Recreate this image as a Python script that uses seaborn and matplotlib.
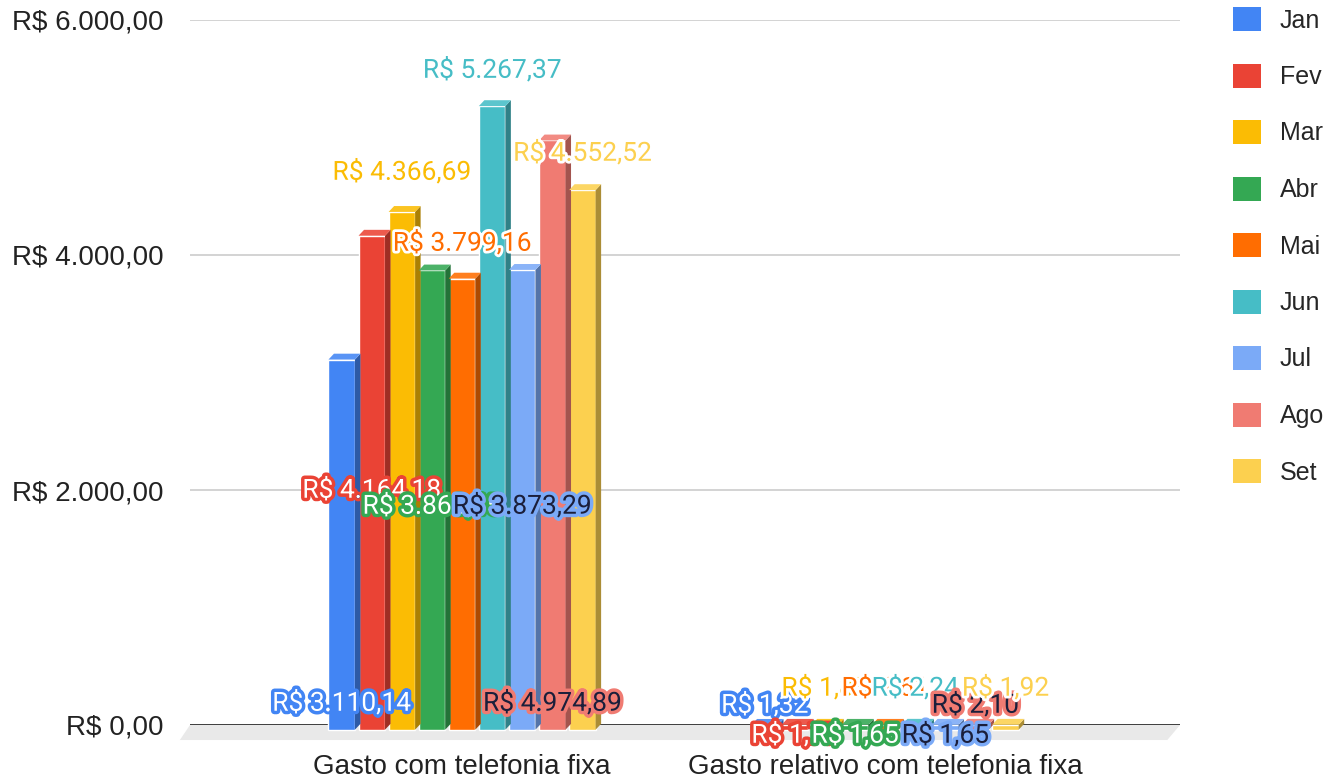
import matplotlib.pyplot as plt
import matplotlib.patheffects as pe
import matplotlib.colors as mcolors
from matplotlib.patches import Patch, Polygon
import pandas as pd
import seaborn as sns


MONTHS = ["Jan", "Fev", "Mar", "Abr", "Mai", "Jun", "Jul", "Ago", "Set"]
CATEGORIES = ["Gasto com telefonia fixa", "Gasto relativo com telefonia fixa"]
GASTO = [3110.14, 4164.18, 4366.69, 3868.45, 3799.16, 5267.37, 3873.29, 4974.89, 4552.52]
GASTO_RELATIVO = [1.32, 1.77, 1.85, 1.65, 1.61, 2.24, 1.65, 2.10, 1.92]
COLORS = ["#4285F4", "#EA4335", "#FBBC04", "#34A853", "#FF6D01",
          "#46BDC6", "#7BAAF7", "#F07B72", "#FCD04F"]
Y_TICKS = [0, 2000, 4000, 6000]
Y_TICK_LABELS = ["R$ 0,00", "R$ 2.000,00", "R$ 4.000,00", "R$ 6.000,00"]

# where Google Sheets dropped each data label (data units), per category
LABEL_Y = [
    [187, 2000, 4706, 1864, 4102, 5574, 1864, 187, 4868],
    [170, -85, 315, -85, 315, 315, -85, 170, 315],
]
# text colour style per series: plain text, white on colour, dark on colour
LABEL_STYLE = ["white", "white", "plain", "white", "plain", "plain", "dark", "dark", "plain"]


def brl(v):
    s = f"{v:,.2f}".replace(",", "X").replace(".", ",").replace("X", ".")
    return f"R$ {s}"


def shade(color, f):
    r, g, b = mcolors.to_rgb(color)
    if f < 1:
        return (r * f, g * f, b * f)
    return (r + (1 - r) * (f - 1), g + (1 - g) * (f - 1), b + (1 - b) * (f - 1))


def main() -> None:
    sns.set_theme(style="white")
    plt.rcParams["font.family"] = ["Liberation Sans", "DejaVu Sans"]

    df = pd.DataFrame({
        "categoria": [CATEGORIES[0]] * len(MONTHS) + [CATEGORIES[1]] * len(MONTHS),
        "mes": MONTHS * 2,
        "valor": GASTO + GASTO_RELATIVO,
    })

    fig = plt.figure(figsize=(13.31, 7.81), dpi=100)
    ax = fig.add_axes([190 / 1331, 56 / 781, 990 / 1331, 705 / 781])

    sns.barplot(
        data=df, x="categoria", y="valor", hue="mes",
        hue_order=MONTHS, palette=COLORS, width=0.64, gap=0.12,
        saturation=1, legend=False, errorbar=None, ax=ax, zorder=3,
    )

    x_left, x_right = -0.643, 1.697
    ax.set_xlim(x_left, x_right)
    ax.set_ylim(0, 6000)

    # fake 3D: side and top faces for each bar
    dx, dy = 0.013, 50
    for i, cont in enumerate(ax.containers):
        for bar in cont:
            x0 = bar.get_x()
            x1 = x0 + bar.get_width()
            h = bar.get_height()
            side = Polygon([(x1, -40), (x1 + dx, -40 + dy), (x1 + dx, h + dy), (x1, h)],
                           closed=True, facecolor=shade(COLORS[i], 0.68),
                           edgecolor="none", zorder=3, clip_on=False)
            top = Polygon([(x0, h), (x0 + dx, h + dy), (x1 + dx, h + dy), (x1, h)],
                          closed=True, facecolor=shade(COLORS[i], 1.12),
                          edgecolor="none", zorder=3, clip_on=False)
            ax.add_patch(side)
            ax.add_patch(top)
            bar.set_y(-40)
            bar.set_height(h + 40)
            bar.set_clip_on(False)

    # floor strip under the baseline
    floor = Polygon([(x_left, 0), (x_right, 0), (x_right - 0.03, -128), (x_left - 0.024, -128)],
                    closed=True, facecolor="#e9e9e9", edgecolor="none", zorder=1, clip_on=False)
    ax.add_patch(floor)
    ax.axhline(0, color="#333333", lw=1.3, zorder=2)

    for s in ax.spines.values():
        s.set_visible(False)
    ax.yaxis.grid(True, color="#cccccc", lw=1.2)
    ax.set_axisbelow(True)
    ax.set_yticks(Y_TICKS, Y_TICK_LABELS)
    ax.tick_params(axis="y", length=0, pad=19, labelsize=20, labelcolor="#222222")
    ax.tick_params(axis="x", length=0, pad=21, labelsize=20, labelcolor="#222222")
    ax.set_xlabel("")
    ax.set_ylabel("")

    # data labels
    values = [GASTO, GASTO_RELATIVO]
    z = 10
    for j in range(len(CATEGORIES)):
        for i, cont in enumerate(ax.containers):
            bar = cont[j]
            xc = bar.get_x() + bar.get_width() / 2
            style = LABEL_STYLE[i]
            if style == "plain":
                color, fx = COLORS[i], [pe.withStroke(linewidth=4, foreground="white")]
            elif style == "white":
                color, fx = "white", [pe.withStroke(linewidth=5, foreground=COLORS[i])]
            else:
                color, fx = "#1b1f3b", [pe.withStroke(linewidth=5, foreground=COLORS[i])]
            ax.text(xc, LABEL_Y[j][i], brl(values[j][i]), ha="center", va="center",
                    fontsize=19, family=["Roboto", "DejaVu Sans"], color=color,
                    path_effects=fx, zorder=z, clip_on=False)
            z += 1

    handles = [Patch(facecolor=c, edgecolor="none") for c in COLORS]
    fig.legend(handles, MONTHS, loc="upper left", bbox_to_anchor=(1233 / 1331, 1 - 7 / 781),
               frameon=False, fontsize=18, handlelength=1.1, handleheight=1.1,
               handletextpad=0.78, labelspacing=1.24, borderaxespad=0, borderpad=0)

    fig.savefig("out.png", dpi=100)
    plt.close(fig)


if __name__ == "__main__":
    main()
